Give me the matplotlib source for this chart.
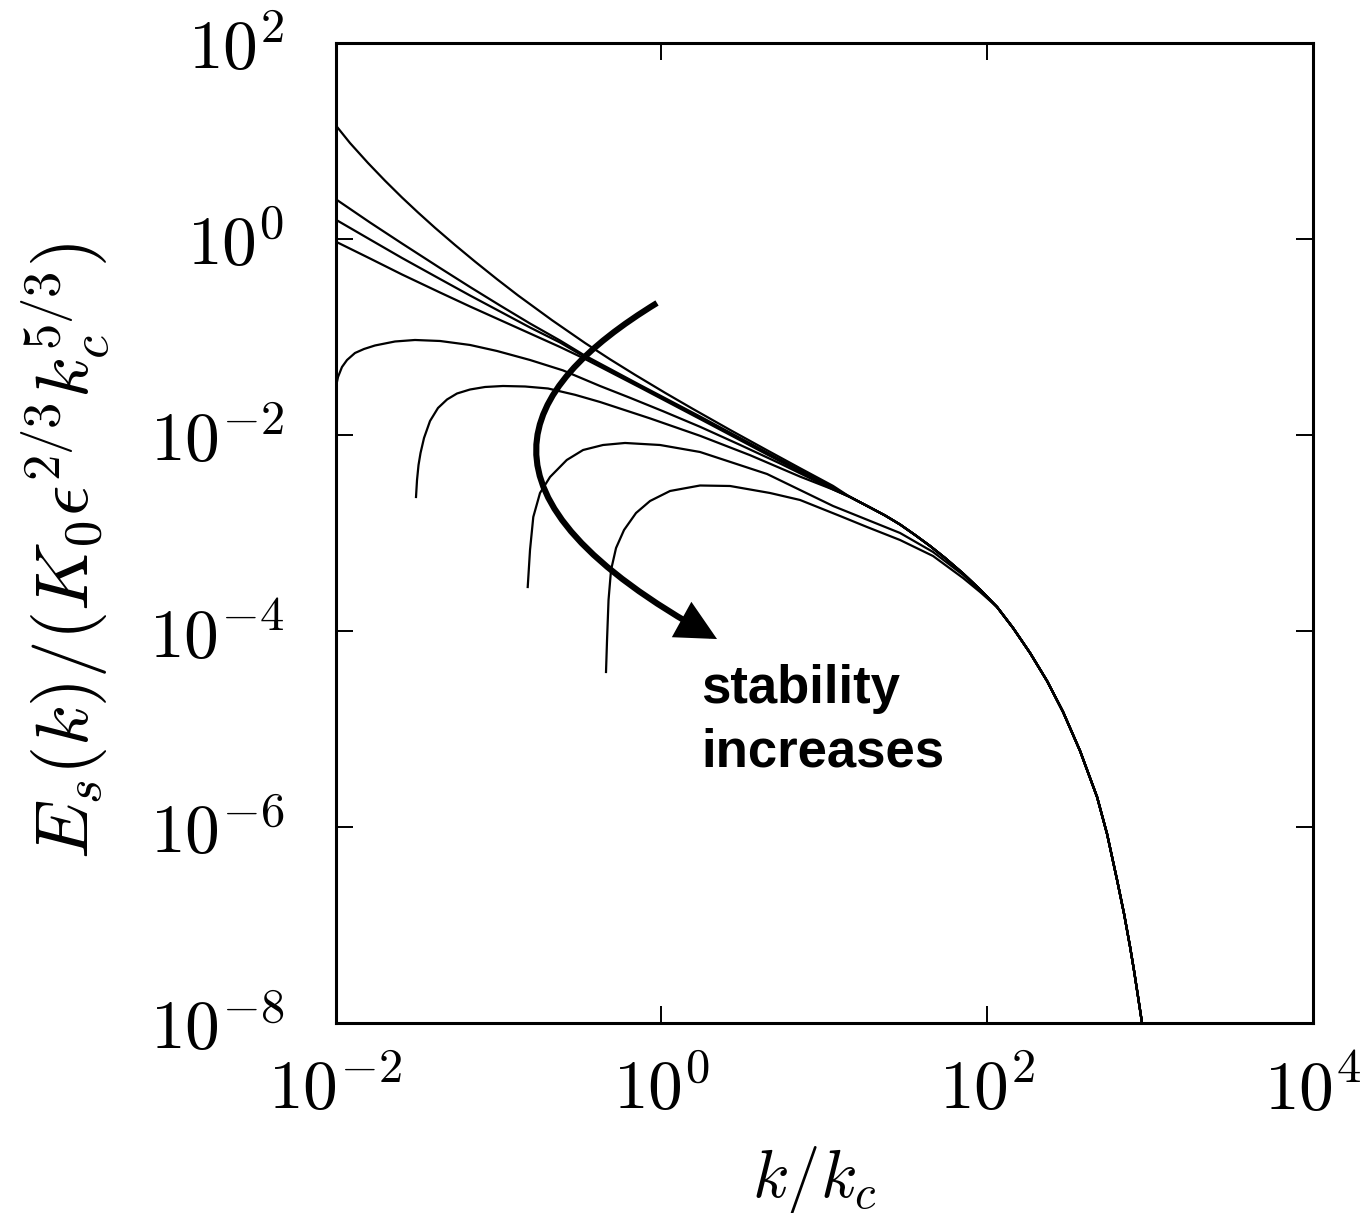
import matplotlib
matplotlib.use('Agg')
import matplotlib.pyplot as plt
from matplotlib.path import Path
from matplotlib.patches import FancyArrowPatch

plt.rcParams['mathtext.fontset'] = 'cm'

# ---- data (k/k_c, normalized spectrum) ----
k_c1 = [0.01, 0.01227, 0.01583, 0.02013, 0.0256, 0.0321, 0.04081, 0.05415, 0.07185, 0.09804, 0.1319,
        0.2133, 0.3401, 0.4843, 0.6894, 1.054, 1.565, 2.641, 4.519, 7.101, 11.32]
E_c1 = [14.57, 9.541, 5.964, 3.935, 2.651, 1.864, 1.301, 0.8685, 0.5881, 0.3888, 0.2657,
        0.1484, 0.08686, 0.05921, 0.04114, 0.02695, 0.01842, 0.01127, 0.006899, 0.004584, 0.003024]

k_c234 = [0.01, 0.01628, 0.0256, 0.0438, 0.06694, 0.1023, 0.1563, 0.2388, 0.3306, 0.7401, 1.728, 4.519, 11.32]
E_c2 = [2.56, 1.474, 0.8996, 0.5059, 0.3237, 0.2097, 0.1373, 0.09211, 0.06629, 0.03237, 0.01544, 0.006552, 0.002912]
E_c3 = [1.581, 0.9883, 0.64, 0.3906, 0.2651, 0.1821, 0.125, 0.08789, 0.064, 0.03162, 0.01491, 0.0064, 0.002845]
E_c4 = [0.943, 0.6325, 0.4343, 0.2844, 0.2048, 0.1491, 0.1086, 0.07907, 0.06106, 0.03053, 0.01456, 0.006252, 0.002812]

k_c5 = [0.01, 0.01036, 0.01096, 0.01177, 0.01317, 0.01496, 0.01748, 0.02319, 0.03076, 0.0438, 0.06694,
        0.09804, 0.1563, 0.2492, 0.4204, 0.6425, 1.024, 1.728, 3.042, 5.355, 11.32]
E_c5 = [0.02947, 0.03906, 0.04941, 0.05825, 0.06866, 0.07543, 0.08193, 0.08998, 0.0932, 0.09104, 0.0829,
        0.07197, 0.05825, 0.04561, 0.03162, 0.02396, 0.01749, 0.01213, 0.007925, 0.00512, 0.002779]

k_c6 = [0.0312, 0.03165, 0.03233, 0.03326, 0.03494, 0.03803, 0.04257, 0.04836, 0.05569, 0.06694, 0.08276,
        0.1067, 0.1457, 0.2016, 0.2953, 0.4204, 0.8524, 1.728, 3.504, 7.101, 11.32]
E_c6 = [0.00233, 0.003473, 0.004942, 0.006552, 0.00932, 0.01389, 0.01886, 0.02303, 0.02651, 0.02912, 0.03089,
        0.03162, 0.03125, 0.02982, 0.02571, 0.02172, 0.01477, 0.009813, 0.006223, 0.003762, 0.002779]

k_c7 = [0.1513, 0.1563, 0.1637, 0.18, 0.2074, 0.2627, 0.331, 0.4386, 0.5987, 0.9817, 1.728, 4.456, 11.32,
        29.19, 46.55, 71.14, 90.45]
E_c7 = [0.000281, 0.000671, 0.001457, 0.002559, 0.003727, 0.005558, 0.00703, 0.007906, 0.00829, 0.007906,
        0.006707, 0.003999, 0.001886, 0.001, 0.00064, 0.000373, 0.000259]

k_c8 = [0.4575, 0.4642, 0.4741, 0.4912, 0.5272, 0.5902, 0.6993, 0.8524, 1.131, 1.728, 2.641, 4.648, 7.101,
        12.5, 18.31, 29.19, 46.55, 71.14, 90.45]
E_c8 = [3.816e-5, 8.094e-5, 0.000207, 0.000419, 0.000703, 0.001073, 0.0016, 0.002121, 0.002683, 0.003052,
        0.003017, 0.002559, 0.002172, 0.001491, 0.001151, 0.000848, 0.000582, 0.000347, 0.00025]

# shared high-k tail (all spectra collapse)
tail_k = [14.40, 19.11, 23.62, 29.19, 36.09, 44.62, 55.16, 71.14, 90.45, 115.0, 144.2, 183.4, 233.2,
          292.4, 371.8, 472.7, 544.5, 627.1, 692.5, 753.9, 797.6, 843.9, 905.7]
tail_E = [0.00233, 0.00182, 0.001509, 0.001221, 0.000954, 0.000737, 0.000556, 0.000386, 0.000265,
          0.0001757, 0.0001073, 5.965e-5, 3.089e-5, 1.491e-5, 5.965e-6, 2.023e-6, 8.48e-7, 2.878e-7,
          1.295e-7, 5.965e-8, 3.393e-8, 1.842e-8, 8.48e-9]
join_78 = 9  # curves 7 and 8 merge into the tail at k ~ 115

xtick_vals = [1e-2, 1e0, 1e2, 1e4]
xtick_labels = [r'$10^{-2}$', r'$10^{0}$', r'$10^{2}$', r'$10^{4}$']
ytick_vals = [1e-8, 1e-6, 1e-4, 1e-2, 1e0, 1e2]
ytick_labels = [r'$10^{-8}$', r'$10^{-6}$', r'$10^{-4}$', r'$10^{-2}$', r'$10^{0}$', r'$10^{2}$']

curves = [
    (k_c1 + tail_k, E_c1 + tail_E),
    (k_c234 + tail_k, E_c2 + tail_E),
    (k_c234 + tail_k, E_c3 + tail_E),
    (k_c234 + tail_k, E_c4 + tail_E),
    (k_c5 + tail_k, E_c5 + tail_E),
    (k_c6 + tail_k, E_c6 + tail_E),
    (k_c7 + tail_k[join_78:], E_c7 + tail_E[join_78:]),
    (k_c8 + tail_k[join_78:], E_c8 + tail_E[join_78:]),
]

fig = plt.figure(figsize=(13.69, 12.13), dpi=100)
ax = fig.add_axes([0.24507, 0.15664, 0.71403, 0.80792])

for k, E in curves:
    ax.plot(k, E, color='black', lw=1.6, solid_joinstyle='round')

ax.set_xscale('log')
ax.set_yscale('log')
ax.set_xlim(1e-2, 1e4)
ax.set_ylim(1e-8, 1e2)
ax.set_xticks(xtick_vals, xtick_labels)
ax.set_yticks(ytick_vals, ytick_labels)
ax.minorticks_off()
ax.tick_params(which='major', direction='in', length=12, width=1.4,
               top=True, right=True, labelsize=50)
ax.tick_params(axis='x', pad=24)
ax.tick_params(axis='y', pad=37)
for s in ax.spines.values():
    s.set_linewidth(2.2)

ax.set_xlabel(r'$k/k_c$', fontsize=48)
ax.set_ylabel(r'$E_s(k)/(K_0\epsilon^{2/3}k_c^{5/3})$', fontsize=54)
ax.xaxis.set_label_coords(0.4895, -0.123)
ax.yaxis.set_label_coords(-0.2286, 0.482)

# curved "stability increases" arrow (axes-fraction coordinates)
verts = [(0.3289, 0.7347), (0.1840, 0.6463), (0.1259, 0.5372), (0.3903, 0.3918)]
path = Path(verts, [Path.MOVETO, Path.CURVE4, Path.CURVE4, Path.CURVE4])
arrow = FancyArrowPatch(path=path, arrowstyle='-|>,head_length=0.4,head_width=0.2',
                        mutation_scale=55, lw=4.4, color='black',
                        transform=ax.transAxes, joinstyle='miter', capstyle='butt')
ax.add_patch(arrow)

ax.text(0.3739, 0.3265, 'stability', transform=ax.transAxes, fontsize=38,
        fontweight='bold', family=['Liberation Sans', 'DejaVu Sans'], ha='left', va='baseline')
ax.text(0.3739, 0.2622, 'increases', transform=ax.transAxes, fontsize=38,
        fontweight='bold', family=['Liberation Sans', 'DejaVu Sans'], ha='left', va='baseline')

fig.savefig('out.png', dpi=100)
